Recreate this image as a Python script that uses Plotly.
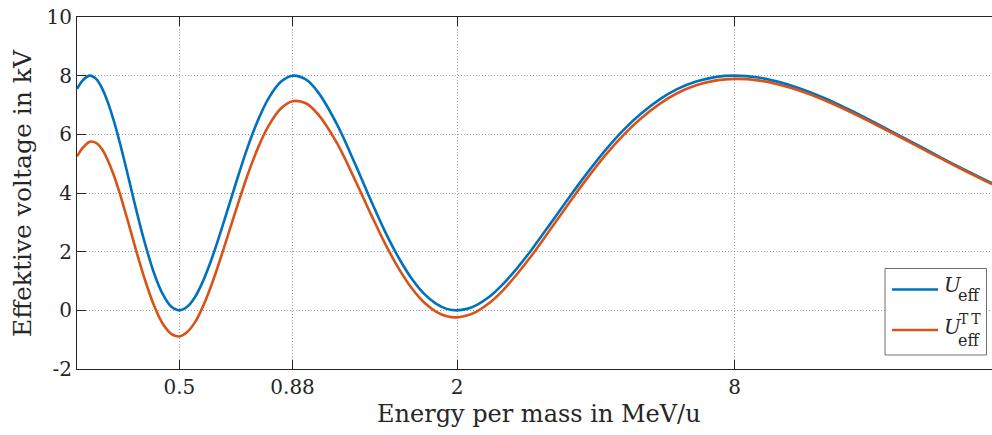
import math
import plotly.graph_objects as go

# Energy per mass (MeV/u) and effective gap voltages (kV)
energy = [0.30, 0.31, 0.32, 0.33, 0.34, 0.35, 0.36, 0.37, 0.38, 0.39, 0.40,
          0.42, 0.44, 0.46, 0.48, 0.50, 0.52, 0.54, 0.56, 0.58, 0.60,
          0.63, 0.66, 0.70, 0.74, 0.78, 0.83, 0.88, 0.94,
          1.0, 1.1, 1.2, 1.3, 1.4, 1.5, 1.6, 1.7, 1.8, 1.9, 2.0,
          2.1, 2.2, 2.35, 2.5, 2.7, 2.9, 3.2, 3.5, 3.8, 4.2, 4.6, 5.0,
          5.5, 6.0, 6.6, 7.3, 8.0, 9.0, 10, 11, 12.5, 14, 16, 18, 20, 22.5, 25, 28.9]

u_eff = [7.55, 7.87, 8.00, 7.89, 7.57, 7.09, 6.49, 5.82, 5.10, 4.37, 3.65,
         2.35, 1.30, 0.56, 0.13, 0.00, 0.12, 0.44, 0.92, 1.51, 2.17,
         3.21, 4.23, 5.47, 6.47, 7.22, 7.79, 8.00, 7.87,
         7.43, 6.32, 5.02, 3.76, 2.65, 1.75, 1.05, 0.55, 0.23, 0.05, 0.00,
         0.05, 0.17, 0.46, 0.85, 1.44, 2.06, 2.99, 3.85, 4.61, 5.47, 6.16, 6.69,
         7.19, 7.54, 7.80, 7.96, 8.00, 7.94, 7.78, 7.58, 7.24, 6.88, 6.42, 6.00, 5.62, 5.19, 4.82, 4.33]

u_eff_tt = [5.25, 5.57, 5.75, 5.71, 5.49, 5.11, 4.63, 4.07, 3.46, 2.84, 2.22,
            1.10, 0.19, -0.45, -0.80, -0.89, -0.74, -0.42, 0.06, 0.64, 1.29,
            2.31, 3.31, 4.53, 5.53, 6.28, 6.88, 7.13, 7.06,
            6.68, 5.68, 4.47, 3.29, 2.24, 1.39, 0.73, 0.26, -0.04, -0.20, -0.24,
            -0.18, -0.05, 0.25, 0.64, 1.24, 1.86, 2.80, 3.66, 4.43, 5.30, 5.99, 6.53,
            7.04, 7.40, 7.67, 7.84, 7.89, 7.84, 7.69, 7.50, 7.17, 6.82, 6.37, 5.96, 5.58, 5.16, 4.79, 4.30]

x_ticks = [0.5, 0.88, 2, 8]
x_tick_text = ["0.5", "0.88", "2", "8"]
y_ticks = [-2, 0, 2, 4, 6, 8, 10]
y_tick_text = ["-2", "0", "2", "4", "6", "8", "10"]

BLUE = "#0072BD"
ORANGE = "#D95319"
AXIS = "#262626"
FONT = "DejaVu Serif"

W, H = 992, 435
M_L, M_R, M_T, M_B = 77, 0, 17, 66
PW, PH = W - M_L - M_R, H - M_T - M_B


def px(x):
    return (x - M_L) / PW


def py(y):
    return (H - M_B - y) / PH


fig = go.Figure()
fig.add_trace(go.Scatter(x=energy, y=u_eff, mode="lines", line=dict(color=BLUE, width=2.6, shape="spline"),
                         showlegend=False))
fig.add_trace(go.Scatter(x=energy, y=u_eff_tt, mode="lines", line=dict(color=ORANGE, width=2.6, shape="spline"),
                         showlegend=False))

grid = dict(showgrid=True, gridcolor="rgba(38,38,38,0.45)", gridwidth=1, griddash="1px,2px")

fig.update_xaxes(type="log", range=[math.log10(0.3), math.log10(28.9)],
                 tickvals=x_ticks, ticktext=x_tick_text,
                 ticks="inside", ticklen=9, tickwidth=1, tickcolor=AXIS,
                 showline=True, linecolor=AXIS, linewidth=1, mirror="ticks",
                 tickfont=dict(family=FONT, size=20, color=AXIS), zeroline=False, **grid)
fig.update_yaxes(range=[-2, 10], tickvals=y_ticks, ticktext=y_tick_text,
                 ticks="inside", ticklen=9, tickwidth=1, tickcolor=AXIS,
                 showline=True, linecolor=AXIS, linewidth=1,
                 tickfont=dict(family=FONT, size=20, color=AXIS), zeroline=False, **grid)

# legend box with line samples
shapes = [
    dict(type="rect", xref="paper", yref="paper", x0=px(885), x1=px(986.5), y0=py(355), y1=py(268.5),
         fillcolor="white", line=dict(color="#6e6e6e", width=1), layer="above"),
    dict(type="line", xref="paper", yref="paper", x0=px(892), x1=px(938), y0=py(289.5), y1=py(289.5),
         line=dict(color=BLUE, width=2.6), layer="above"),
    dict(type="line", xref="paper", yref="paper", x0=px(892), x1=px(938), y0=py(330), y1=py(330),
         line=dict(color=ORANGE, width=2.6), layer="above"),
]

annotations = [
    dict(text="Energy per mass in MeV/u", xref="paper", yref="paper", x=px(539), y=py(414),
         xanchor="center", yanchor="middle", showarrow=False, font=dict(family=FONT, size=24, color=AXIS)),
    dict(text="Effektive voltage in kV", xref="paper", yref="paper", x=px(22), y=py(193),
         xanchor="center", yanchor="middle", textangle=-90, showarrow=False,
         font=dict(family=FONT, size=25, color=AXIS)),
    # legend labels
    dict(text="<i>U</i>", xref="paper", yref="paper", x=px(942), y=py(285), xanchor="left", yanchor="middle",
         showarrow=False, font=dict(family=FONT, size=20, color=AXIS)),
    dict(text="eff", xref="paper", yref="paper", x=px(956), y=py(295), xanchor="left", yanchor="middle",
         showarrow=False, font=dict(family=FONT, size=16, color=AXIS)),
    dict(text="<i>U</i>", xref="paper", yref="paper", x=px(942), y=py(327), xanchor="left", yanchor="middle",
         showarrow=False, font=dict(family=FONT, size=20, color=AXIS)),
    dict(text="T\u2009T", xref="paper", yref="paper", x=px(957), y=py(319), xanchor="left", yanchor="middle",
         showarrow=False, font=dict(family=FONT, size=14, color=AXIS)),
    dict(text="eff", xref="paper", yref="paper", x=px(956), y=py(340), xanchor="left", yanchor="middle",
         showarrow=False, font=dict(family=FONT, size=16, color=AXIS)),
]

fig.update_layout(width=W, height=H, margin=dict(l=M_L, r=M_R, t=M_T, b=M_B, pad=0),
                  plot_bgcolor="white", paper_bgcolor="white",
                  shapes=shapes, annotations=annotations, showlegend=False,
                  font=dict(family=FONT, color=AXIS))

fig.write_html("out.html")
